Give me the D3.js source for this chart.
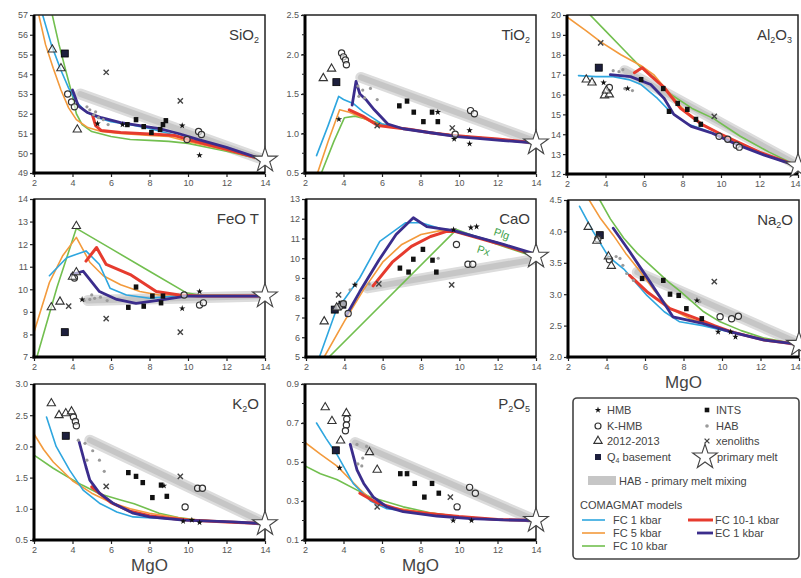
<!DOCTYPE html>
<html><head><meta charset="utf-8">
<script src="https://cdn.jsdelivr.net/npm/d3@7"></script>
<style>
body{margin:0;background:#fff}
svg{display:block;font-family:"Liberation Sans",Arial,sans-serif}
</style>
</head><body>
<svg id="chart" width="801" height="578"></svg>
<script>
// ---- oxide panels (order of drawing: row by row) ----
const oxides = ["SiO2", "TiO2", "Al2O3", "FeOT", "CaO", "Na2O", "K2O", "P2O5"];
const mgoTicks = [2, 4, 6, 8, 10, 12, 14];
const yDomains = {SiO2:[49,57], TiO2:[0.5,2.5], Al2O3:[12,20], FeOT:[7,14], CaO:[5,13], Na2O:[2,4.5], K2O:[0.5,3.0], P2O5:[0.1,0.9]};
const yTickValues = {
  SiO2:[49,50,51,52,53,54,55,56,57], TiO2:[0.5,1.0,1.5,2.0,2.5], Al2O3:[12,13,14,15,16,17,18,19,20],
  FeOT:[7,8,9,10,11,12,13,14], CaO:[5,6,7,8,9,10,11,12,13], Na2O:[2.0,2.5,3.0,3.5,4.0,4.5],
  K2O:[0.5,1.0,1.5,2.0,2.5,3.0], P2O5:[0.1,0.3,0.5,0.7,0.9]
};
const titles = {
  SiO2:[["SiO",0],["2",1]], TiO2:[["TiO",0],["2",1]], Al2O3:[["Al",0],["2",1],["O",0],["3",1]],
  FeOT:[["FeO T",0]], CaO:[["CaO",0]], Na2O:[["Na",0],["2",1],["O",0]], K2O:[["K",0],["2",1],["O",0]],
  P2O5:[["P",0],["2",1],["O",0],["5",1]]
};

// ---- COMAGMAT model paths [MgO, oxide] ----
const fc1 = {
  SiO2:[[2.45,57],[2.9,55.5],[3.4,54.2],[3.8,53.3],[4.2,52.6],[4.7,52.1],[5.3,51.8],[6,51.6],[7,51.45],[8,51.25],[9,51.0],[10,50.7],[12,50.2],[14,49.65]],
  TiO2:[[2.6,0.72],[3.2,1.1],[3.75,1.47],[4.0,1.43],[4.5,1.38],[5.0,1.28],[5.5,1.2],[6,1.12],[7,1.07],[8,1.03],[9,1.0],[10,0.97],[12,0.93],[14,0.88]],
  Al2O3:[[2.6,16.95],[3.5,16.9],[4.4,16.9],[5.2,16.75],[5.85,16.5],[6.7,15.8],[7.4,15.1],[8.3,14.5],[9.5,14.1],[10.9,13.5],[12.3,12.95],[14,12.4]],
  FeOT:[[2.8,10.6],[3.7,11.4],[4.7,11.7],[5.4,11.1],[5.95,10.05],[6.8,9.75],[8,9.6],[9.9,9.75],[11,9.7],[14,9.7]],
  CaO:[[2.7,5.0],[3.55,7.3],[4.8,9.0],[5.85,10.85],[7.2,11.8],[8.0,11.8],[9,11.5],[9.8,11.4],[12,10.8],[14,10.15]],
  Na2O:[[2.6,4.4],[3.3,4.0],[4.1,3.6],[4.9,3.4],[6.1,2.98],[7.0,2.72],[7.8,2.56],[9,2.5],[10.4,2.4],[12.2,2.27],[14,2.2]],
  K2O:[[2.65,2.47],[3.15,2.0],[3.85,1.62],[4.55,1.3],[5.4,1.09],[6.3,0.95],[7.15,0.87],[8.9,0.84],[10,0.82],[12,0.79],[14,0.76]],
  P2O5:[[2.6,0.7],[3.1,0.62],[3.65,0.54],[4.5,0.39],[5.4,0.3],[6.25,0.26],[8,0.24],[10,0.22],[12,0.205],[14,0.2]]
};
const fc5 = {
  SiO2:[[2.25,57],[2.6,55.5],[3.0,54.3],[3.4,53.2],[3.8,52.3],[4.2,51.7],[4.8,51.3],[5.5,51.1],[6.5,51.0],[8,50.9],[9,50.85],[10,50.6],[12,50.15],[14,49.65]],
  TiO2:[[2.65,0.5],[3.2,0.9],[3.8,1.3],[4.3,1.27],[5.0,1.2],[5.5,1.14],[6,1.1],[7,1.06],[8,1.03],[9,1.0],[10,0.97],[12,0.93],[14,0.88]],
  Al2O3:[[2.0,19.9],[3.0,19.2],[3.75,18.65],[4.8,18.0],[5.85,17.45],[6.5,17.0],[7.2,16.2],[8,15.3],[9,14.5],[10,14.0],[12,13.1],[14,12.4]],
  FeOT:[[2.0,8.1],[2.8,10.3],[3.5,11.5],[4.2,12.3],[4.9,11.2],[5.6,10.6],[6.5,10.2],[7.5,9.9],[8.5,9.75],[9.6,9.75],[11,9.7],[14,9.7]],
  CaO:[[2.95,5.0],[4.0,6.8],[5.0,8.4],[6.0,9.8],[7.0,10.7],[8.0,11.2],[9.0,11.4],[9.8,11.35],[12,10.8],[14,10.15]],
  Na2O:[[3.1,4.5],[3.7,4.2],[4.35,3.94],[5.0,3.65],[5.75,3.36],[6.5,3.05],[7.3,2.77],[8.35,2.61],[9.5,2.5],[10.5,2.4],[12.2,2.27],[14,2.2]],
  K2O:[[2.0,2.2],[2.5,1.95],[3.0,1.75],[4.0,1.45],[5.0,1.25],[6.0,1.1],[7,1.0],[8,0.93],[9,0.88],[10,0.83],[12,0.79],[14,0.76]],
  P2O5:[[2.0,0.6],[2.8,0.54],[3.65,0.48],[4.85,0.36],[5.4,0.31],[6.25,0.27],[8,0.245],[10,0.22],[12,0.205],[14,0.2]]
};
const fc10 = {
  SiO2:[[2.95,57],[3.3,55.5],[3.7,54.0],[4.0,52.9],[4.2,52.0],[4.5,51.45],[5,51.1],[6,50.85],[7,50.7],[8,50.65],[9,50.6],[10,50.5],[12,50.1],[14,49.65]],
  TiO2:[[2.85,0.5],[3.5,0.9],[4.05,1.2],[4.6,1.22],[5.2,1.18],[6,1.12],[7,1.07],[8,1.03],[9,1.0],[10,0.97],[12,0.93],[14,0.88]],
  Al2O3:[[3.2,20.0],[4.0,19.2],[5.0,18.2],[5.85,17.35],[6.6,16.8],[7.4,16.0],[8.5,15.3],[9.6,14.8],[11,13.9],[12.5,13.1],[14,12.4]],
  FeOT:[[2.15,7.0],[3.2,10.1],[4.2,12.7],[6,11.8],[8,10.8],[9.9,9.85],[10.6,9.75],[14,9.7]],
  CaO:[[3.2,5.0],[9.85,11.45],[12,10.7],[14,10.05]],
  Na2O:[[3.65,4.5],[4.2,4.2],[4.9,3.89],[5.6,3.65],[6.45,3.41],[7.2,3.2],[7.85,3.04],[9.05,2.72],[9.9,2.56],[11,2.42],[12.2,2.3],[14,2.2]],
  K2O:[[2.0,1.86],[3.0,1.65],[3.7,1.52],[4.5,1.38],[5.4,1.24],[6.5,1.14],[7.2,1.08],[8.5,0.93],[9.5,0.86],[10.5,0.82],[12,0.79],[14,0.76]],
  P2O5:[[2.0,0.48],[2.8,0.44],[3.65,0.41],[5.4,0.32],[7.1,0.27],[8.5,0.24],[10,0.22],[12,0.205],[14,0.2]]
};
const fc10to1 = {
  SiO2:[[5.05,51.9],[5.2,51.4],[5.5,51.15],[6.5,51.05],[7.5,51.0],[8.5,50.95],[9.3,50.9],[10,50.7],[12,50.2],[14,49.65]],
  TiO2:[[4.3,1.3],[5.0,1.22],[5.8,1.1],[6.5,1.08],[7.5,1.05],[8.5,1.01],[9.5,0.98],[10.5,0.96],[12,0.93],[14,0.88]],
  Al2O3:[[5.5,17.1],[5.9,17.35],[6.4,16.9],[7.0,16.4],[7.9,15.3],[9.0,14.5],[10,14.0],[12,13.1],[14,12.4]],
  FeOT:[[4.7,11.25],[5.25,11.85],[5.75,11.1],[7.0,10.65],[8.35,9.9],[9.55,9.75],[10.5,9.7],[14,9.7]],
  CaO:[[5.5,8.6],[6.5,9.8],[7.5,10.6],[8.5,11.1],[9.3,11.35],[9.8,11.35],[12,10.75],[14,10.15]],
  Na2O:[[5.2,3.3],[6.1,3.04],[7.3,2.77],[8.7,2.61],[9.6,2.5],[10.5,2.4],[12.2,2.27],[14,2.2]],
  K2O:[[5.0,1.35],[6,1.1],[7,0.96],[8,0.89],[9,0.85],[10,0.82],[12,0.79],[14,0.76]],
  P2O5:[[4.85,0.34],[5.75,0.29],[7.1,0.25],[8.5,0.235],[10,0.22],[12,0.205],[14,0.2]]
};
const ec1 = {
  SiO2:[[4.0,53.2],[4.3,52.4],[4.8,52.05],[5.5,51.8],[6.5,51.55],[7.5,51.4],[8.5,51.25],[9.5,51.0],[10.5,50.7],[12,50.3],[14,49.65]],
  TiO2:[[4.45,1.36],[4.65,1.66],[4.85,1.5],[5.2,1.42],[5.6,1.3],[6.3,1.12],[7.1,1.06],[8.8,1.0],[9.9,0.96],[12.3,0.91],[14,0.88]],
  Al2O3:[[4.25,17.0],[5.3,16.9],[6.35,16.5],[7.05,15.8],[7.55,15.0],[8.45,14.4],[9.55,14.05],[10.9,13.45],[12.25,12.95],[14,12.4]],
  FeOT:[[3.95,10.65],[4.55,10.8],[5.4,9.9],[6.3,9.55],[7.3,9.38],[8.35,9.5],[9.9,9.7],[14,9.7]],
  CaO:[[4.1,7.1],[4.8,8.3],[5.8,9.9],[6.7,11.2],[7.6,12.05],[8.3,11.6],[9.7,11.4],[12.3,10.7],[14,10.2]],
  Na2O:[[4.35,4.05],[5.2,3.68],[6.25,3.2],[6.9,2.9],[7.45,2.64],[9.05,2.53],[10.45,2.4],[12.2,2.27],[14,2.2]],
  K2O:[[4.35,2.07],[4.7,1.67],[4.9,1.46],[5.4,1.25],[6.1,1.09],[7.15,0.93],[8,0.87],[9.75,0.82],[12.3,0.79],[14,0.76]],
  P2O5:[[4.35,0.59],[4.7,0.46],[5.05,0.39],[5.55,0.32],[6.25,0.27],[7.1,0.245],[8.85,0.223],[10.6,0.21],[12.3,0.203],[14,0.2]]
};
// HAB - primary melt mixing band end members
const mixing = {
  SiO2:[[4.4,53.0],[14,49.65]], TiO2:[[4.9,1.71],[14,0.9]], Al2O3:[[5.0,17.2],[14,12.45]], FeOT:[[4.8,9.5],[14,9.7]],
  CaO:[[5.2,8.5],[14,9.95]], Na2O:[[5.6,3.35],[14,2.22]], K2O:[[4.9,2.1],[14,0.77]], P2O5:[[4.6,0.6],[14,0.2]]
};

// ---- rock samples [MgO, oxide] ----
const hmb = {
  SiO2:[[5.3,51.5],[9.7,51.4],[10.6,49.9],[6.6,51.45]], TiO2:[[3.76,1.18],[9.75,0.93],[10.55,1.04],[10.55,0.87],[8.9,1.27]],
  Al2O3:[[5.15,16.3],[3.9,16.6]], FeOT:[[9.7,9.15],[10.6,9.9],[4.5,9.55]], CaO:[[4.55,8.65],[9.7,11.45],[10.6,11.55],[10.9,11.6]],
  Na2O:[[8.7,2.9],[9.8,2.4],[10.45,2.4],[10.7,2.32]], K2O:[[9.75,0.8],[10.2,0.82],[10.6,0.78],[8.75,1.37]], P2O5:[[3.8,0.47],[9.7,0.2],[10.65,0.2]]
};
const kHmb = {
  SiO2:[[3.75,53.0],[3.95,52.6],[4.1,52.35],[9.95,50.7],[10.55,51.1],[10.7,50.95]],
  TiO2:[[3.9,2.02],[4.0,1.97],[4.1,1.93],[4.15,1.87],[10.6,1.29],[10.8,1.25],[9.8,0.99]],
  Al2O3:[[4.2,16.35],[9.9,13.9],[10.35,13.75],[10.8,13.45],[10.95,13.35]],
  FeOT:[[4.1,10.5],[9.8,9.75],[10.6,9.3],[10.8,9.4]],
  CaO:[[3.75,7.55],[3.95,7.7],[4.2,7.2],[9.85,10.7],[10.45,9.7],[10.7,9.7]],
  Na2O:[[3.55,3.88],[4.15,3.55],[9.9,2.64],[10.5,2.61],[10.85,2.65]],
  K2O:[[4.05,2.47],[4.15,2.4],[4.2,2.33],[9.85,1.03],[10.5,1.33],[10.75,1.33]],
  P2O5:[[4.17,0.72],[4.15,0.69],[4.1,0.66],[9.9,0.27],[10.55,0.37],[10.85,0.34]]
};
const erupt2012 = {
  SiO2:[[2.95,55.25],[3.4,54.3],[4.25,51.2]], TiO2:[[2.95,1.7],[3.38,1.82]],
  Al2O3:[[3.0,16.75],[3.3,16.6],[3.95,15.95],[4.2,16.0],[4.05,16.2]], FeOT:[[4.2,12.8],[2.9,9.2],[3.35,9.45],[4.0,10.55],[4.2,10.75]],
  CaO:[[2.95,6.8],[3.6,7.5]], Na2O:[[3.05,4.07],[3.5,3.85],[4.1,3.6],[4.25,3.45]],
  K2O:[[2.9,2.69],[3.3,2.5],[3.65,2.53],[3.95,2.56]], P2O5:[[3.05,0.78],[3.4,0.71],[3.85,0.61],[4.15,0.75],[5.35,0.55],[5.75,0.46]]
};
const q4Basement = {
  SiO2:[[3.6,55.05]], TiO2:[[3.63,1.65]], Al2O3:[[3.65,17.35]], FeOT:[[3.6,8.1]],
  CaO:[[3.5,7.4],[3.9,7.65]], Na2O:[[3.65,3.94]], K2O:[[3.65,2.17]], P2O5:[[3.6,0.56]]
};
const ints = {
  SiO2:[[6.85,51.45],[7.3,51.7],[7.7,51.35],[8.1,51.05],[8.55,51.2],[8.7,51.45],[8.85,51.65]],
  TiO2:[[6.9,1.35],[7.3,1.41],[7.65,1.27],[8.15,1.15],[8.6,1.27],[8.9,1.15]],
  Al2O3:[[5.85,16.75],[7.0,16.3],[7.3,15.15],[7.75,15.55],[8.25,15.25],[8.7,14.75],[8.95,14.5]],
  FeOT:[[7.3,10.1],[6.9,9.2],[7.7,9.25],[8.15,9.7],[8.6,9.4],[8.7,9.7]],
  CaO:[[6.9,9.5],[7.35,9.3],[7.6,9.95],[8.1,10.45],[8.6,9.9],[8.8,9.3]],
  Na2O:[[6.95,3.22],[7.3,3.0],[7.75,2.98],[8.15,2.77],[8.95,2.61],[5.85,3.25]],
  K2O:[[6.9,1.58],[7.3,1.52],[7.65,1.42],[8.15,1.18],[8.6,1.38],[8.9,1.2]],
  P2O5:[[6.95,0.44],[7.3,0.44],[7.7,0.39],[8.2,0.32],[8.6,0.39],[8.95,0.34]]
};
const hab = {
  SiO2:[[4.75,52.35],[4.9,52.2],[5.1,51.95],[5.35,51.8],[5.6,51.7],[5.85,51.45],[5.2,52.1]],
  TiO2:[[4.75,1.6],[5.0,1.55],[4.8,1.47],[5.4,1.57],[5.75,1.43],[5.1,1.45]],
  Al2O3:[[4.4,17.2],[4.7,17.15],[5.0,16.3],[5.4,16.2],[4.9,17.25],[3.4,16.6]],
  FeOT:[[4.9,9.55],[5.15,9.6],[5.45,9.65],[5.8,9.5],[5.0,9.75],[4.6,9.5]],
  CaO:[[4.3,8.4],[4.6,8.65],[5.3,8.7],[8.9,10.0]],
  Na2O:[[4.7,3.57],[4.85,3.46],[5.05,3.33],[5.4,3.22],[8.85,2.88],[4.5,3.6]],
  K2O:[[4.3,2.1],[4.65,2.05],[4.75,1.78],[5.05,1.93],[5.4,1.78],[5.65,1.6]],
  P2O5:[[4.7,0.59],[4.75,0.49],[4.95,0.48],[5.2,0.58],[5.0,0.52]]
};
const xenoliths = {
  SiO2:[[5.75,54.1],[9.6,52.65]], TiO2:[[9.65,1.07],[5.75,1.1]], Al2O3:[[3.75,18.6],[9.65,14.9]],
  FeOT:[[3.8,9.25],[5.75,8.7],[9.6,8.1]], CaO:[[3.7,8.15],[9.6,8.65],[5.8,8.7]], Na2O:[[9.6,3.2]],
  K2O:[[5.75,1.36],[9.6,1.52]], P2O5:[[9.55,0.32],[5.75,0.27]]
};
const primaryMelt = {SiO2:[14,49.65], TiO2:[14,0.88], Al2O3:[14,12.4], FeOT:[14,9.7], CaO:[14,10.1], Na2O:[14,2.2], K2O:[14,0.76], P2O5:[14,0.2]};

// phase labels along the CaO trends
const caoLabels = [{text:"Plg", x:12.15, y:11.05}, {text:"Px", x:11.2, y:10.2}];

// ---- layout ----
const boxes = [
  {l:34,t:15,r:265,b:173}, {l:305,t:15,r:536,b:173}, {l:567,t:15,r:798,b:174},
  {l:34,t:199,r:265,b:357}, {l:306,t:199,r:536,b:357}, {l:568,t:200,r:799,b:357},
  {l:34,t:384,r:265,b:540}, {l:305,t:384,r:536,b:540}
];
const models = [
  {data:fc10, color:"#72bf4f", w:1.6},
  {data:fc5, color:"#f39a3c", w:1.6},
  {data:fc1, color:"#2ea6df", w:1.6},
  {data:fc10to1, color:"#e63b2e", w:3},
  {data:ec1, color:"#3b2d8c", w:2.8}
];

const svg = d3.select("#chart");
const fmt1 = d3.format(".1f");

const sym = {
  star: d3.symbol().type(d3.symbolStar).size(13)(),
  tri: d3.symbol().type(d3.symbolTriangle).size(30)(),
  big: d3.symbol().type(d3.symbolStar).size(190)()
};

oxides.forEach((ox, i) => {
  const b = boxes[i];
  const x = d3.scaleLinear().domain([2,14]).range([b.l, b.r]);
  const y = d3.scaleLinear().domain(yDomains[ox]).range([b.b, b.t]);
  const g = svg.append("g");
  const clipId = "clip" + i;
  g.append("clipPath").attr("id", clipId).append("rect")
    .attr("x", b.l).attr("y", b.t).attr("width", b.r - b.l).attr("height", b.b - b.t);
  const body = g.append("g").attr("clip-path", `url(#${clipId})`);
  const line = d3.line().x(d => x(d[0])).y(d => y(d[1])).curve(d3.curveLinear);

  // mixing band
  body.append("path").attr("d", line(mixing[ox])).attr("fill","none")
    .attr("stroke","#dcdcdc").attr("stroke-width",11).attr("stroke-linecap","round");
  body.append("path").attr("d", line(mixing[ox])).attr("fill","none")
    .attr("stroke","#c6c6c6").attr("stroke-width",6).attr("stroke-linecap","round");

  models.forEach(m => {
    body.append("path").attr("d", line(m.data[ox])).attr("fill","none")
      .attr("stroke", m.color).attr("stroke-width", m.w).attr("stroke-linejoin","round").attr("stroke-linecap","round");
  });

  // samples
  g.selectAll(null).data(hab[ox]).join("circle")
    .attr("cx", d => x(d[0])).attr("cy", d => y(d[1])).attr("r", 1.6).attr("fill", "#9a9a9a");
  g.selectAll(null).data(ints[ox]).join("rect")
    .attr("x", d => x(d[0]) - 2.3).attr("y", d => y(d[1]) - 2.6).attr("width", 4.6).attr("height", 5.2).attr("fill", "#111");
  g.selectAll(null).data(q4Basement[ox]).join("rect")
    .attr("x", d => x(d[0]) - 3.5).attr("y", d => y(d[1]) - 3.5).attr("width", 7).attr("height", 7)
    .attr("fill", "#1d1f3d").attr("stroke", "#000").attr("stroke-width", 0.8);
  g.selectAll(null).data(hmb[ox]).join("path").attr("d", sym.star)
    .attr("transform", d => `translate(${x(d[0])},${y(d[1])})`).attr("fill", "#111");
  g.selectAll(null).data(kHmb[ox]).join("circle")
    .attr("cx", d => x(d[0])).attr("cy", d => y(d[1])).attr("r", 3.1)
    .attr("fill", "#fff").attr("fill-opacity", 0.6).attr("stroke", "#333").attr("stroke-width", 1.2);
  g.selectAll(null).data(erupt2012[ox]).join("path").attr("d", sym.tri)
    .attr("transform", d => `translate(${x(d[0])},${y(d[1])})`)
    .attr("fill", "#fff").attr("fill-opacity", 0.6).attr("stroke", "#333").attr("stroke-width", 1.1);
  g.selectAll(null).data(xenoliths[ox]).join("path").attr("d", "M-2.6,-2.6L2.6,2.6M-2.6,2.6L2.6,-2.6")
    .attr("transform", d => `translate(${x(d[0])},${y(d[1])})`)
    .attr("stroke", "#444").attr("stroke-width", 1.4).attr("fill", "none");

  if (ox === "CaO") {
    g.selectAll(null).data(caoLabels).join("text")
      .attr("transform", d => `translate(${x(d.x)},${y(d.y)}) rotate(18)`)
      .attr("text-anchor","middle").attr("font-size", 11).attr("fill", "#3fa34d").text(d => d.text);
  }

  // frame and axes
  g.append("rect").attr("x", b.l).attr("y", b.t).attr("width", b.r - b.l).attr("height", b.b - b.t)
    .attr("fill","none").attr("stroke","#222").attr("stroke-width",1.5);
  g.append("line").attr("x1", b.l).attr("x2", b.l).attr("y1", b.t).attr("y2", b.b + 1.5)
    .attr("stroke","#000").attr("stroke-width",3);
  g.append("line").attr("x1", b.l - 1.5).attr("x2", b.r).attr("y1", b.b).attr("y2", b.b)
    .attr("stroke","#000").attr("stroke-width",3);

  const xAxis = d3.axisBottom(x).tickValues(mgoTicks).tickSize(3).tickPadding(3).tickFormat(d3.format("d"));
  const gx = g.append("g").attr("transform", `translate(0,${b.b + 1})`).call(xAxis);
  const decimals = ["TiO2","Na2O","K2O","P2O5"].includes(ox);
  const yAxis = d3.axisLeft(y).tickValues(yTickValues[ox]).tickSize(3).tickPadding(2)
    .tickFormat(decimals ? fmt1 : d3.format("d"));
  const gy = g.append("g").attr("transform", `translate(${b.l - 1},0)`).call(yAxis);
  [gx, gy].forEach(a => {
    a.select(".domain").remove();
    a.selectAll(".tick line").attr("stroke","#222").attr("stroke-width",1.2);
    a.selectAll(".tick text").attr("font-size", 9).attr("fill", "#555")
      .attr("font-family", "'Liberation Sans',Arial,sans-serif");
  });
  // keep the last MgO label inside the page for the right-hand column
  if (b.r > 780) {
    gx.selectAll(".tick text").filter(d => d === 14)
      .attr("text-anchor", "end").attr("x", 800 - b.r);
  }
  if (ox === "P2O5" || ox === "TiO2") {
    const step = ox === "P2O5" ? 0.1 : 0.25;
    const minor = d3.range(yDomains[ox][0], yDomains[ox][1] + 1e-9, step);
    g.selectAll(null).data(minor).join("line")
      .attr("x1", b.l - 3).attr("x2", b.l).attr("y1", d => y(d)).attr("y2", d => y(d))
      .attr("stroke","#222").attr("stroke-width",1);
  }

  // primary melt
  g.append("path").attr("d", sym.big)
    .attr("transform", `translate(${x(primaryMelt[ox][0])},${y(primaryMelt[ox][1])})`)
    .attr("fill","#fff").attr("stroke","#444").attr("stroke-width",1.1);

  // title
  const t = g.append("text").attr("x", b.r - 6).attr("y", b.t + 25).attr("text-anchor","end")
    .attr("font-size", 15).attr("fill", "#3a3a3a");
  titles[ox].forEach((p, k) => {
    const prevSub = k > 0 && titles[ox][k - 1][1];
    const s = t.append("tspan").text(p[0]);
    if (p[1]) s.attr("font-size", 9).attr("dy", 3);
    else if (prevSub) s.attr("dy", -3);
  });
});

// MgO axis titles
[5, 6, 7].forEach(i => {
  const b = boxes[i];
  svg.append("text").attr("x", (b.l + b.r) / 2).attr("y", b.b + 31).attr("text-anchor","middle")
    .attr("font-size", 17).attr("fill", "#444").text("MgO");
});

// ---- legend ----
const legendSymbols = [
  {label:"HMB", kind:"hmb", x:598, y:410},
  {label:"K-HMB", kind:"khmb", x:598, y:426},
  {label:"2012-2013", kind:"tri", x:598, y:441},
  {label:"Q", sub:"4", after:" basement", kind:"qb", x:598, y:457},
  {label:"INTS", kind:"ints", x:707, y:410},
  {label:"HAB", kind:"hab", x:707, y:426},
  {label:"xenoliths", kind:"xeno", x:707, y:441},
  {label:"primary melt", kind:"pm", x:705, y:457}
];
const legendLines = [
  {label:"FC 1 kbar", color:"#2ea6df", w:1.6, x1:582, x2:605, y:520},
  {label:"FC 5 kbar", color:"#f39a3c", w:1.6, x1:582, x2:605, y:533},
  {label:"FC 10 kbar", color:"#72bf4f", w:1.6, x1:582, x2:605, y:546},
  {label:"FC 10-1 kbar", color:"#e63b2e", w:3, x1:688, x2:713, y:520},
  {label:"EC 1 kbar", color:"#3b2d8c", w:2.8, x1:697, x2:713, y:533}
];
const lg = svg.append("g");
lg.append("rect").attr("x", 573).attr("y", 398).attr("width", 226).attr("height", 161).attr("rx", 4)
  .attr("fill","#fff").attr("stroke","#444").attr("stroke-width",1.6);
legendSymbols.forEach(s => {
  const tr = `translate(${s.x},${s.y})`;
  if (s.kind === "hmb") lg.append("path").attr("d", sym.star).attr("transform", tr).attr("fill","#111");
  if (s.kind === "khmb") lg.append("circle").attr("cx", s.x).attr("cy", s.y).attr("r", 3).attr("fill","#fff").attr("stroke","#333").attr("stroke-width",1.2);
  if (s.kind === "tri") lg.append("path").attr("d", sym.tri).attr("transform", tr).attr("fill","#fff").attr("stroke","#333").attr("stroke-width",1.1);
  if (s.kind === "qb") lg.append("rect").attr("x", s.x - 3).attr("y", s.y - 3).attr("width", 6).attr("height", 6).attr("fill","#1d1f3d");
  if (s.kind === "ints") lg.append("rect").attr("x", s.x - 2.3).attr("y", s.y - 2.3).attr("width", 4.6).attr("height", 4.6).attr("fill","#111");
  if (s.kind === "hab") lg.append("circle").attr("cx", s.x).attr("cy", s.y).attr("r", 1.8).attr("fill","#9a9a9a");
  if (s.kind === "xeno") lg.append("path").attr("d","M-2.4,-2.4L2.4,2.4M-2.4,2.4L2.4,-2.4").attr("transform", tr).attr("stroke","#444").attr("stroke-width",1.3);
  if (s.kind === "pm") lg.append("path").attr("d", sym.big).attr("transform", tr).attr("fill","#fff").attr("stroke","#444").attr("stroke-width",1.1);
  const tx = lg.append("text").attr("x", s.kind === "pm" ? s.x + 12 : s.x + 9).attr("y", s.y + 4)
    .attr("font-size", 11).attr("fill", "#444").text(s.label);
  if (s.sub) {
    tx.append("tspan").attr("font-size", 7).attr("dy", 2).text(s.sub);
    tx.append("tspan").attr("dy", -2).text(s.after);
  }
});
lg.append("rect").attr("x", 588).attr("y", 476).attr("width", 28).attr("height", 9).attr("fill","#c6c6c6");
lg.append("text").attr("x", 619).attr("y", 485).attr("font-size", 11).attr("fill","#444").text("HAB - primary melt mixing");
lg.append("text").attr("x", 580).attr("y", 509).attr("font-size", 11).attr("fill","#444").text("COMAGMAT models");
legendLines.forEach(l => {
  lg.append("line").attr("x1", l.x1).attr("x2", l.x2).attr("y1", l.y).attr("y2", l.y)
    .attr("stroke", l.color).attr("stroke-width", l.w);
  lg.append("text").attr("x", l.x2 + (l.w > 2 ? 2 : 8)).attr("y", l.y + 4).attr("font-size", 11).attr("fill","#444").text(l.label);
});
</script>
</body></html>
